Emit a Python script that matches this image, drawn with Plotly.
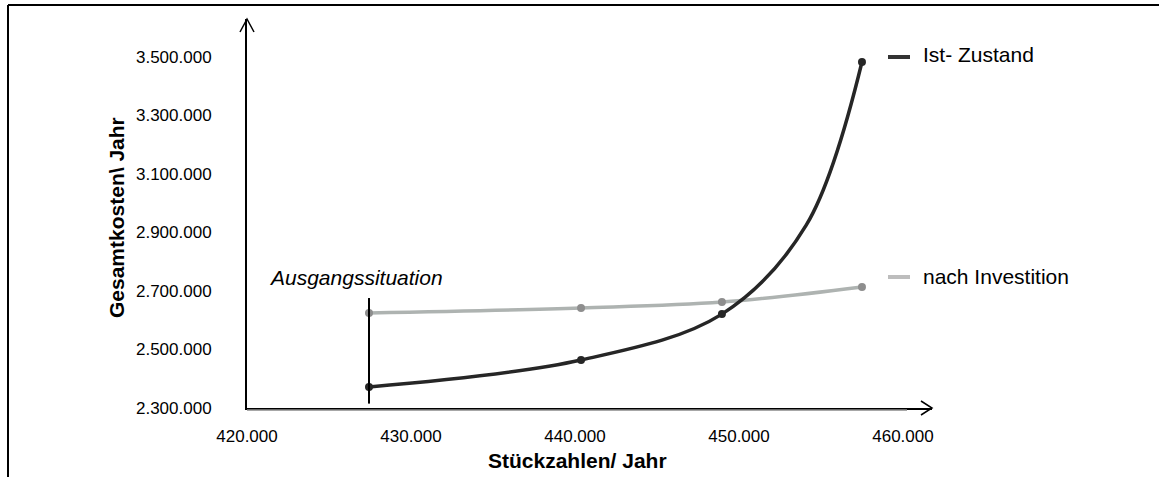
import plotly.graph_objects as go

# Stückzahlen pro Jahr (x) und Gesamtkosten pro Jahr (y)
stueck = [427440, 440370, 448960, 457500]
ist_kosten = [2372000, 2464000, 2621000, 3483000]
nach_kosten = [2625000, 2642000, 2662000, 2714000]

# Stützstelle der geglätteten Ist-Kurve zwischen 449.000 und 457.500
ist_kurve_x = [427440, 440370, 448960, 454100, 457500]
ist_kurve_y = [2372000, 2464000, 2621000, 2925000, 3483000]

x_ticks = [420000, 430000, 440000, 450000, 460000]
y_ticks = [2300000, 2500000, 2700000, 2900000, 3100000, 3300000, 3500000]

x_range = [420000, 461770]
y_range = [2300000, 3630000]

W, H = 1159, 477
ML, MR, MT, MB = 247, 227, 19, 69
PW, PH = W - ML - MR, H - MT - MB

FONT = "Liberation Sans, Arial, sans-serif"
DARK = "#262626"
LIGHT = "#AEB3B1"
LIGHT_MARK = "#8E8E8E"
TXT = 21


def px_x(p):
    return (p - ML) / PW


def px_y(p):
    return 1 - (p - MT) / PH


fig = go.Figure()

fig.add_trace(go.Scatter(
    x=stueck, y=nach_kosten, mode="lines",
    line=dict(color=LIGHT, width=3.5, shape="spline", smoothing=1),
    hoverinfo="skip", showlegend=False))
fig.add_trace(go.Scatter(
    x=stueck, y=nach_kosten, mode="markers", name="nach Investition",
    marker=dict(color=LIGHT_MARK, size=8), showlegend=False))

fig.add_trace(go.Scatter(
    x=ist_kurve_x, y=ist_kurve_y, mode="lines",
    line=dict(color=DARK, width=3.5, shape="spline", smoothing=1),
    hoverinfo="skip", showlegend=False))
fig.add_trace(go.Scatter(
    x=stueck, y=ist_kosten, mode="markers", name="Ist- Zustand",
    marker=dict(color=DARK, size=8), showlegend=False))

shapes = []
# Ausgangssituation: senkrechte Linie am ersten Messpunkt
shapes.append(dict(type="line", xref="x", yref="y",
                   x0=stueck[0], x1=stueck[0], y0=2315000, y1=2676000,
                   line=dict(color="black", width=2)))
# Pfeilspitzen an den Achsenenden
shapes.append(dict(type="path", xref="paper", yref="paper",
                   xsizemode="pixel", ysizemode="pixel",
                   xanchor=1, yanchor=0,
                   path="M -11 7 L 0 0 L -11 -7",
                   line=dict(color="black", width=1.5)))
shapes.append(dict(type="path", xref="paper", yref="paper",
                   xsizemode="pixel", ysizemode="pixel",
                   xanchor=0, yanchor=1,
                   path="M -7 -13 L 0 0 L 7 -13",
                   line=dict(color="black", width=1.5)))
# grauer Schatten unter der x-Achse
shapes.append(dict(type="line", xref="paper", yref="paper",
                   x0=0, x1=px_x(907), y0=px_y(410), y1=px_y(410),
                   line=dict(color="#8A8A8A", width=1.5)))
# Rahmen oben und links
shapes.append(dict(type="line", xref="paper", yref="paper",
                   x0=px_x(8), x1=px_x(W + 5), y0=px_y(5), y1=px_y(5),
                   line=dict(color="black", width=2)))
shapes.append(dict(type="line", xref="paper", yref="paper",
                   x0=px_x(8), x1=px_x(8), y0=px_y(5), y1=px_y(H + 5),
                   line=dict(color="black", width=2)))
# Legendensymbole
shapes.append(dict(type="line", xref="paper", yref="paper",
                   x0=px_x(888), x1=px_x(910), y0=px_y(57), y1=px_y(57),
                   line=dict(color="#333333", width=4)))
shapes.append(dict(type="line", xref="paper", yref="paper",
                   x0=px_x(888), x1=px_x(910), y0=px_y(277), y1=px_y(277),
                   line=dict(color="#BDBDBD", width=4)))

annotations = [
    dict(text="Ist- Zustand", xref="paper", yref="paper",
         x=px_x(921), y=px_y(54), xanchor="left", yanchor="middle",
         showarrow=False, font=dict(family=FONT, size=TXT, color="black")),
    dict(text="nach Investition", xref="paper", yref="paper",
         x=px_x(921), y=px_y(276), xanchor="left", yanchor="middle",
         showarrow=False, font=dict(family=FONT, size=TXT, color="black")),
    dict(text="<i>Ausgangssituation</i>", xref="paper", yref="paper",
         x=px_x(267), y=px_y(277), xanchor="left", yanchor="middle",
         showarrow=False, font=dict(family=FONT, size=TXT, color="black")),
    # Achsentitel
    dict(text="<b>Stückzahlen/ Jahr</b>", xref="paper", yref="paper",
         x=px_x(577), y=px_y(461), xanchor="center", yanchor="middle",
         showarrow=False, font=dict(family=FONT, size=TXT, color="black")),
    dict(text="<b>Gesamtkosten\\ Jahr</b>", xref="paper", yref="paper",
         x=px_x(117), y=px_y(218), xanchor="center", yanchor="middle",
         textangle=-90,
         showarrow=False, font=dict(family=FONT, size=TXT, color="black")),
]

fig.update_layout(
    width=W, height=H,
    margin=dict(l=ML, r=MR, t=MT, b=MB, pad=0),
    paper_bgcolor="white", plot_bgcolor="white",
    separators=",.",
    font=dict(family=FONT, size=17, color="black"),
    shapes=shapes, annotations=annotations,
    showlegend=False,
)

fig.update_xaxes(
    range=x_range, tickvals=x_ticks, tickformat=",d",
    showgrid=False, zeroline=False, showline=True,
    linecolor="black", linewidth=2, ticks="",
    ticklabelstandoff=12,
)
fig.update_yaxes(
    range=y_range, tickvals=y_ticks, tickformat=",d",
    showgrid=False, zeroline=False, showline=True,
    linecolor="black", linewidth=2, ticks="",
    ticklabelstandoff=30,
)

fig.write_html("out.html")
